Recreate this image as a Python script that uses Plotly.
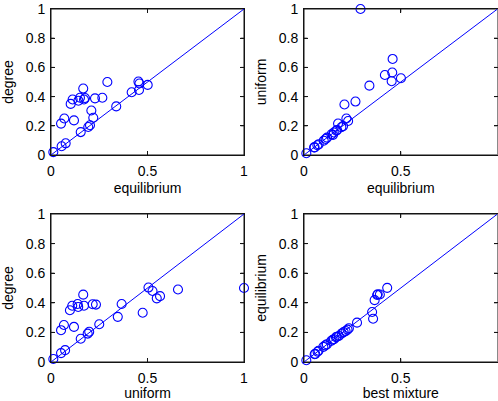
import plotly.graph_objects as go

# data: one row per instance
equilibrium = [0.012, 0.055, 0.076, 0.052, 0.069, 0.119, 0.102, 0.112, 0.142, 0.150,
               0.167, 0.171, 0.176, 0.154, 0.193, 0.202, 0.209, 0.219, 0.228, 0.266,
               0.292, 0.338, 0.418, 0.453, 0.501, 0.456, 0.458]
degree = [0.020, 0.060, 0.080, 0.215, 0.250, 0.237, 0.350, 0.380, 0.372, 0.392,
          0.455, 0.380, 0.390, 0.157, 0.192, 0.204, 0.305, 0.255, 0.388, 0.392,
          0.500, 0.333, 0.430, 0.503, 0.480, 0.445, 0.490]
uniform = [0.012, 0.052, 0.073, 0.052, 0.067, 0.119, 0.098, 0.110, 0.141, 0.138,
           0.167, 0.171, 0.216, 0.154, 0.190, 0.198, 0.346, 0.250, 0.233, 0.366,
           1.000, 0.475, 0.548, 0.505, 0.526, 0.565, 0.658]
best_mixture = [0.012, 0.058, 0.075, 0.055, 0.070, 0.118, 0.100, 0.110, 0.140, 0.148,
                0.165, 0.170, 0.180, 0.155, 0.195, 0.205, 0.215, 0.225, 0.232, 0.274,
                0.357, 0.352, 0.365, 0.378, 0.430, 0.392, 0.381]
diag = [0, 1]
axis_range = [0, 1]
x_ticks = [0, 0.5, 1]
x_ticktext = ["0", "0.5", "1"]
y_ticks = [0, 0.2, 0.4, 0.6, 0.8, 1]
y_ticktext = ["0", "0.2", "0.4", "0.6", "0.8", "1"]

panels = [
    (equilibrium, degree, "equilibrium", "degree"),
    (equilibrium, uniform, "equilibrium", "uniform"),
    (uniform, degree, "uniform", "degree"),
    (best_mixture, equilibrium, "best mixture", "equilibrium"),
]

W, H = 498, 401
xdoms = [[51 / W, 244 / W], [304 / W, 497.5 / W]]
ydoms = [[1 - 155 / H, 1 - 9 / H], [1 - 362 / H, 1 - 214 / H]]
TICK_PX = 3.5

BLUE = "#0000ff"
FRAME = "#141414"
FONT = dict(family="Liberation Sans, Arial, sans-serif", size=14, color="black")
fig = go.Figure()
for i, (xs, ys, xt, yt) in enumerate(panels):
    r, c = divmod(i, 2)
    n = "" if i == 0 else str(i + 1)
    xr, yr = "x" + n, "y" + n
    lo, hi = axis_range
    wpx = (xdoms[c][1] - xdoms[c][0]) * W
    hpx = (ydoms[r][1] - ydoms[r][0]) * H
    tlx = TICK_PX / wpx * (hi - lo)
    tly = TICK_PX / hpx * (hi - lo)

    # axes box with inward ticks on all four sides (MATLAB style)
    fx, fy = [lo, hi, hi, lo, lo], [lo, lo, hi, hi, lo]
    for v in x_ticks[1:-1]:
        fx += [None, v, v, None, v, v]
        fy += [None, lo, lo + tly, None, hi, hi - tly]
    for v in y_ticks[1:-1]:
        fx += [None, lo, lo + tlx, None, hi, hi - tlx]
        fy += [None, v, v, None, v, v]
    fig.add_trace(go.Scatter(x=fx, y=fy, mode="lines", xaxis=xr, yaxis=yr,
                             line=dict(color=FRAME, width=1), cliponaxis=False,
                             connectgaps=False, showlegend=False, hoverinfo="skip"))

    fig.add_trace(go.Scatter(x=diag, y=diag, mode="lines", xaxis=xr, yaxis=yr,
                             line=dict(color=BLUE, width=1), showlegend=False,
                             hoverinfo="skip"))
    fig.add_trace(go.Scatter(x=xs, y=ys, mode="markers", xaxis=xr, yaxis=yr,
                             marker=dict(symbol="circle-open", size=9, color=BLUE,
                                         line=dict(width=1.1, color=BLUE)),
                             cliponaxis=False, showlegend=False, hoverinfo="skip"))
    xa = go.layout.XAxis(domain=xdoms[c], anchor=yr, range=axis_range,
                         tickmode="array", tickvals=x_ticks, ticktext=x_ticktext,
                         showgrid=False, zeroline=False, showline=True,
                         linecolor=FRAME, mirror="ticks", ticks="inside",
                         ticklen=4, tickcolor=FRAME,
                         tickfont=FONT, automargin=False, ticklabelstandoff=3,
                         title=dict(text=xt, font=FONT, standoff=5))
    ya = go.layout.YAxis(domain=ydoms[r], anchor=xr, range=axis_range,
                         tickmode="array", tickvals=y_ticks, ticktext=y_ticktext,
                         showgrid=False, zeroline=False, showline=True,
                         linecolor=FRAME, mirror="ticks", ticks="inside",
                         ticklen=4, tickcolor=FRAME,
                         tickfont=FONT, automargin=False, ticklabelstandoff=2,
                         title=dict(text=yt, font=FONT, standoff=8))
    fig.layout["xaxis" + n] = xa
    fig.layout["yaxis" + n] = ya

fig.update_layout(width=W, height=H, margin=dict(l=0, r=0, t=0, b=0, autoexpand=False),
                  paper_bgcolor="white", plot_bgcolor="white", font=FONT,
                  template="simple_white")

post = "document.body.style.margin='0';document.body.style.padding='0';"
fig.write_html("out.html", post_script=post, config={"displayModeBar": False})
